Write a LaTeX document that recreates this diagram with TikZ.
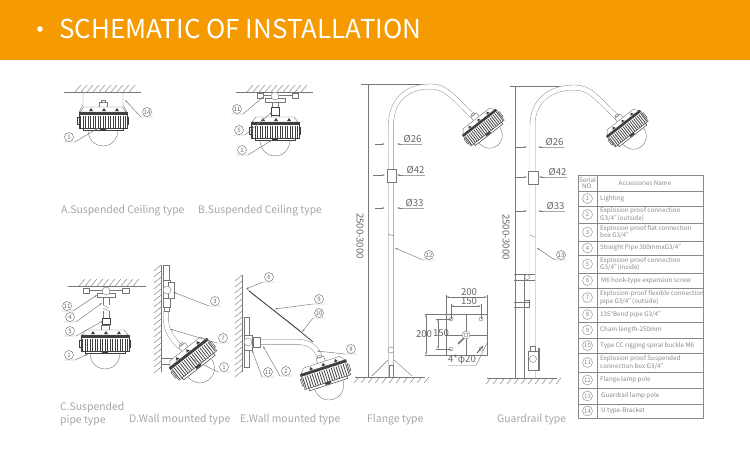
\documentclass[tikz,border=0pt]{standalone}
\usepackage{fontspec}
\setmainfont{Noto Sans CJK SC}
\usetikzlibrary{arrows.meta, calc}

\definecolor{banner}{HTML}{F59A00}
\definecolor{linegray}{HTML}{777777}
\definecolor{polegray}{HTML}{8C8C8C}
\definecolor{lampdark}{HTML}{3F3F3F}
\definecolor{captiongray}{HTML}{A6A6A6}
\definecolor{tablegray}{HTML}{888888}
\definecolor{dimgray}{HTML}{666666}

\newcommand{\inchmark}{"\kern-2.6pt}

\tikzset{
  thinline/.style={draw=linegray, line width=0.4pt},
  pipe/.style={draw=polegray, double=white, double distance=4.6pt, line width=0.45pt},
  leader/.style={draw=linegray, line width=0.45pt, -{Stealth[length=3pt,width=1.6pt]}},
  dimline/.style={draw=linegray, line width=0.4pt, {Stealth[length=3pt,width=1.6pt]}-{Stealth[length=3pt,width=1.6pt]}},
  tag/.style={circle, draw=dimgray, line width=0.4pt, fill=white, inner sep=0pt, minimum size=9pt, text=dimgray, font=\fontsize{6}{6}\selectfont},
  rowtag/.style={tag, draw=tablegray, text=tablegray, minimum size=10pt, font=\fontsize{6}{6}\selectfont},
  caption/.style={anchor=west, inner sep=0pt, text=captiongray, font=\fontsize{10.4}{13.8}\selectfont, align=left},
  dimtext/.style={inner sep=0pt, text=dimgray, font=\fontsize{9.6}{9.6}\selectfont},
  celltext/.style={anchor=west, inner sep=0pt, text=tablegray, align=left, font=\fontsize{6.3}{6.5}\selectfont},
  lamp/.pic={
    \draw[thinline, fill=white] (-15,19) .. controls (-13,39) and (13,39) .. (15,19);
    \draw[thinline, fill=white] (-4,-4) rectangle (4,-10);
    \draw[thinline] (-2,-10) rectangle (2,-12);
    \draw[thinline, fill=white] (-23,0) -- (-19,-5) -- (19,-5) -- (23,0) -- cycle;
    \foreach \kx in {-14,-1,12} \fill[lampdark] (\kx,-1) -- (\kx+2,-4) -- (\kx+4,-1) -- cycle;
    \draw[lampdark, line width=0.4pt, fill=white] (-24,0) rectangle (24,16);
    \fill[lampdark] (-24,0) rectangle (24,2.6);
    \foreach \fx in {-22.5,-20,...,22.5} \draw[lampdark, line width=0.75pt] (\fx,3.5) -- (\fx,15.5);
    \draw[lampdark, line width=0.5pt, fill=white] (-20,16) rectangle (20,18.5);
    \draw[lampdark, line width=0.4pt, fill=white] (-25.5,5) rectangle (-24,12);
    \draw[lampdark, line width=0.4pt, fill=white] (24,5) rectangle (25.5,12);
    \fill[lampdark] (-3,15.5) rectangle (3,18);
  }
}

% hatch rows: y, first x, last x
\newcommand{\ceilinghatch}[3]{
  \draw[thinline] (#2-11,#1) -- (#3+10,#1);
  \foreach \hx in {#2,...,#3} {
    \pgfmathparse{int(mod(\hx-#2,6))}
    \ifnum\pgfmathresult=0 \draw[thinline] (\hx,#1) -- (\hx+6,#1-7); \fi
  }
}
\newcommand{\groundhatch}[3]{
  \draw[thinline] (#2,#1) -- (#3,#1);
  \foreach \hx in {#2,...,#3} {
    \pgfmathparse{int(mod(\hx-#2,7))}
    \ifnum\pgfmathresult=0 \draw[thinline] (\hx+4,#1) -- (\hx-1,#1+6); \fi
  }
}
% wall hatch: x, first y, last y
\newcommand{\wallhatch}[3]{
  \draw[thinline] (#1,#2) -- (#1,#3);
  \foreach \hy in {#2,...,#3} {
    \pgfmathparse{int(mod(\hy-#2,6))}
    \ifnum\pgfmathresult=0 \draw[thinline] (#1,\hy) -- (#1-7,\hy+6); \fi
  }
}

\begin{document}
\begin{tikzpicture}[x=1pt, y=-1pt]
\useasboundingbox (0,0) rectangle (750,450);

% Banner
\fill[banner] (0,0) rectangle (750,60);
\fill[white] (40,29) circle (2.8);
\node[anchor=west, inner sep=0pt, text=white, font=\fontsize{26}{26}\selectfont] (title) at (59,29) {SCHEMATIC OF INSTALLATION};

% A ceiling
\ceilinghatch{92}{75}{131}
\draw[thinline] (83,92) -- (83,105) -- (79,112);
\draw[thinline] (123,92) -- (123,105) -- (127,112);
\pic at (103,112) {lamp};

% B ceiling
\ceilinghatch{92}{247}{303}
\draw[thinline] (257,93) rectangle (263,98);
\draw[thinline] (292,93) rectangle (298,98);
\draw[thinline] (263,95) -- (292,95);
\draw[thinline, fill=white] (265,98) rectangle (285,102);
\draw[thinline, fill=white] (275,96) circle (4);
\draw[thinline] (272,102) rectangle (278,107);
\pic at (275,122) {lamp};
\draw[lampdark, line width=0.4pt, fill=white] (271,107) rectangle (279,115);

% C pipe
\ceilinghatch{286}{79}{136}
\draw[thinline] (83,288) rectangle (89,293);
\draw[thinline] (122,288) rectangle (129,293);
\draw[thinline] (89,290) -- (122,290);
\draw[thinline, fill=white] (97,293) rectangle (115,297);
\draw[thinline, fill=white] (106,291) circle (4);
\draw[thinline] (103,297) -- (103,305) (109,297) -- (109,305);
\draw[thinline] (103,305) -- (109,308) (103,308) -- (109,311);
\draw[thinline] (103,311) -- (103,318) (109,311) -- (109,318);
\pic at (105,335) {lamp};
\draw[lampdark, line width=0.5pt, fill=white] (102,318) rectangle (110,324);

% D wall
\wallhatch{161}{265}{372}
\draw[pipe] (166,311) -- (166,318) .. controls (166,330) and (170,336) .. (180,347);
\draw[thinline] (163,265) rectangle (169,280);
\draw[thinline, fill=white] (163,280) rectangle (170,298);
\draw[thinline, fill=white] (168,282) rectangle (174,298);
\draw[thinline, fill=white] (167,290) circle (4);
\draw[thinline] (163,298) rectangle (170,307);
\draw[thinline] (164,307) rectangle (169,311);
\draw[thinline] (161,358) rectangle (181,364);
\pic[rotate=38] at (188,353) {lamp};

% E wall
\wallhatch{242}{275}{372}
\draw[thinline] (247,289) -- (313,342);
\draw[lampdark, line width=0.8pt] (249,291) -- (300,331);
\draw[lampdark, line width=0.6pt] (300,331) -- (313,342);
\draw[pipe] (256,342) -- (298,342) .. controls (310,342) and (316,348) .. (320,357);
\draw[thinline] (244,317) rectangle (249,335);
\draw[thinline, fill=white] (244,335) rectangle (252,350);
\draw[thinline] (244,350) rectangle (249,367);
\draw[thinline, fill=white] (248,342) circle (4);
\draw[thinline, fill=white] (253,337) rectangle (260,347);
\pic[rotate=18] at (323,367) {lamp};

% Flange pole
\draw[thinline] (361,84) -- (430,84);
\draw[thinline] (368,84) -- (368,377);
\draw[pipe] (391,377) -- (391,125) .. controls (391,102) and (405,86.5) .. (430,86.5) .. controls (447,86.5) and (452,97) .. (474,117);
\pic[rotate=38, scale=0.88] at (479,122) {lamp};
\draw[thinline, fill=white] (387,169) rectangle (396,182);
\draw[thinline] (388,234) -- (394,236);
\node[inner sep=0pt, rotate=-90, text=dimgray, font=\fontsize{9.6}{9.6}\selectfont] (flangeheight) at (360,236) {2500-3000};
\groundhatch{377}{355}{425}
\draw[thinline] (372,376) -- (388,360) (412,376) -- (394,360);
\draw[thinline] (389,365) rectangle (393,377);
\draw[thinline, fill=white] (391,350) circle (3);

% Guardrail pole
\draw[thinline] (510,86) -- (575,86);
\draw[thinline] (515,86) -- (515,378);
\draw[pipe] (532.5,378) -- (532.5,125) .. controls (532.5,102) and (549,87.5) .. (574,87.5) .. controls (591,87.5) and (596,98) .. (618,118);
\pic[rotate=38, scale=0.88] at (623,123) {lamp};
\draw[thinline, fill=white] (528,171) rectangle (538,184);
\draw[thinline] (530,235) -- (535,237);
\node[inner sep=0pt, rotate=-90, text=dimgray, font=\fontsize{9.6}{9.6}\selectfont] (guardheight) at (506,237) {2500-3000};
\groundhatch{378}{487}{557}
\draw[thinline] (524,274) -- (524,378);
\draw[thinline] (514,274) -- (535,274) (514,280) -- (535,280);
\draw[thinline] (514,302) -- (530,302) (514,307) -- (530,307);
\draw[thinline, fill=white] (527,277) circle (2.5);
\draw[thinline] (524,300) rectangle (529,307);
\draw[thinline, fill=white] (530,346) rectangle (535,351);
\draw[thinline, fill=white] (528,351) rectangle (538,370);
\draw[thinline] (538,348) rectangle (539.5,370);
\draw[thinline, fill=white] (533,359) circle (3.5);

% Diameter marks
\foreach \dname/\lx/\rx/\px/\qx/\ly/\dtext in {
  fa/375/385/397/403/144/26, fb/373/385/397/406/175/42, fc/375/385/397/405/208/33,
  ga/516/527/538/545/147/26, gb/515/527/539/548/177/42, gc/516/527/538/546/211/33} {
  \node[dimtext, anchor=south west, inner sep=0.5pt] (\dname) at (\qx,\ly) {Ø\dtext};
  \coordinate (\dname e) at (\qx+19,\ly);
  \coordinate (\dname w) at (\qx,\ly);
  \coordinate (\dname p) at (\px,\ly);
  \draw[thinline, -{Stealth[length=3pt,width=1.6pt]}] (\lx,\ly) -- (\rx,\ly);
  \draw[thinline, -{Stealth[length=3pt,width=1.6pt]}] (\dname e) -- (\dname w) -- (\dname p);
}

% Bolt plate
\draw[thinline, line width=0.5pt] (446,314) rectangle (487,355);
\draw[thinline, line width=0.9pt] (466,314) -- (466,355) (446,335) -- (487,335);
\foreach \hx in {451,481} \foreach \hy in {319,349} \draw[thinline, fill=white] (\hx,\hy) circle (2);
\draw[thinline, line width=1.6pt] (458,344) -- (465,337);
\draw[thinline, fill=white] (466,335) circle (4);
\draw[thinline, fill=white] (466,335) circle (2);
\draw[thinline] (446,314) -- (446,295) (487,314) -- (487,295) (451,319) -- (451,304) (481,319) -- (481,304);
\draw[thinline] (425,314) -- (446,314) (425,355) -- (446,355) (436,319) -- (451,319) (436,349) -- (451,349);
\draw[dimline] (446,297) -- (487,297);
\draw[dimline] (451,306) -- (481,306);
\draw[dimline] (426,314) -- (426,355);
\draw[dimline] (438,319) -- (438,349);
\node[dimtext] (topwide) at (469,292) {200};
\node[dimtext] (topnarrow) at (469,301) {150};
\node[dimtext] (sidewide) at (424,334) {200};
\node[dimtext] (sidenarrow) at (441,333) {150};
\node[dimtext, anchor=south, inner sep=0.5pt] (holes) at (462,365.5) {4*φ20};
\coordinate (holese) at (448,365.5);
\coordinate (holesw) at (476,365.5);
\coordinate (holestip) at (487,343);
\draw[thinline] (holese) -- (holesw) -- (holestip);
\draw[lampdark, line width=0.7pt] (477,353) -- (483,346);

% Callouts whose tip lies to the left of the number
\foreach \nm/\numx/\numy/\cnum/\tipx/\tipy in {
  aN/147/112/14/125/100, dA/215/301/3/173/292, dB/223/338/7/170/329, dC/224/367/1/192/359,
  eA/269/277/6/246/289, eB/319/299/9/275/309, eC/319/313/10/302/332, eD/351/349/8/317/351,
  eE/268/372/11/252/350, eF/286/371/2/263/346, fT/429/255/12/395/248, gT/561/255/13/537/248} {
  \node[tag] (\nm) at (\numx,\numy) {\cnum};
  \coordinate (tip\nm) at (\tipx,\tipy);
  \coordinate (near\nm) at (\numx-6,\numy+5);
  \coordinate (far\nm) at (\numx+6,\numy+5);
  \draw[leader] (far\nm) -- (near\nm) -- (tip\nm);
}

% Callouts whose tip lies to the right of the number
\foreach \nm/\numx/\numy/\cnum/\tipx/\tipy in {
  aA/69/137/1/98/128, bA/237/109/11/263/97, bB/239/130/5/272/112, bC/242/150/1/272/140,
  cA/67/306/11/97/295, cB/70/317/4/102/303, cC/70/331/5/103/321, cD/69/355/1/88/354} {
  \node[tag] (\nm) at (\numx,\numy) {\cnum};
  \coordinate (tip\nm) at (\tipx,\tipy);
  \coordinate (near\nm) at (\numx+6,\numy+5);
  \coordinate (far\nm) at (\numx-6,\numy+5);
  \draw[leader] (far\nm) -- (near\nm) -- (tip\nm);
}

% Captions
\node[caption] (capA) at (61,211) {A.Suspended Ceiling type};
\node[caption] (capB) at (198,211) {B.Suspended Ceiling type};
\node[caption] (capC) at (60,414) {C.Suspended\\pipe type};
\node[caption] (capD) at (129,420) {D.Wall mounted type};
\node[caption] (capE) at (240,420) {E.Wall mounted type};
\node[caption] (capF) at (367,420) {Flange type};
\node[caption] (capG) at (497,420) {Guardrail type};

% Accessories table
\draw[draw=tablegray, line width=0.4pt] (578,175) rectangle (703,191);
\node[celltext, anchor=center, align=center] (headno) at (587.5,183) {Serial\\NO.};
\node[celltext, anchor=center] (headname) at (645,183) {Accessories Name};
\foreach \rownm/\ya/\yb/\cellx/\rowtext in {
  1/191/206/600/{Lighting},
  2/206/223/600/{Explosion proof connection\\G3/4\inchmark(outside)},
  3/223/241/600/{Explosion proof flat connection\\box G3/4"},
  4/241/255/600/{Straight Pipe 300mmxG3/4"},
  5/255/273/600/{Explosion proof connection\\G3/4\inchmark(inside)},
  6/273/288/601/{M6 hook-type expansion screw},
  7/288/307/600/{Explosion-proof flexible connection\\pipe G3/4\inchmark(outside)},
  8/307/322/600/{135°Bend pipe G3/4"},
  9/322/338/600/{Chain length-250mm},
  10/338/353/600/{Type CC rigging spiral buckle M6},
  11/353/372/600/{Explosion proof Suspended\\connection box G3/4"},
  12/372/388/600/{Flange lamp pole},
  13/388/404/601/{Guardrail lamp pole},
  14/404/418/601/{U type-Bracket}} {
  \draw[draw=tablegray, line width=0.4pt] (578,\ya) rectangle (703,\yb);
  \node[rowtag] (no\rownm) at (587.5,{(\ya+\yb)/2}) {\rownm};
  \node[celltext] (name\rownm) at (\cellx,{(\ya+\yb)/2}) {\rowtext};
}
\draw[draw=tablegray, line width=0.4pt] (597,175) -- (597,418);
\end{tikzpicture}
\end{document}
